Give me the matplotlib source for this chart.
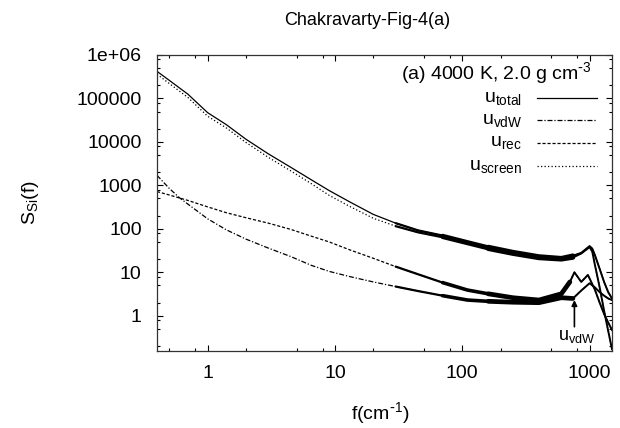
import numpy as np
import matplotlib
matplotlib.use("Agg")
from matplotlib import pyplot as plt
from matplotlib.ticker import FixedLocator, LogLocator, NullFormatter

plt.rcParams['font.family'] = ['Liberation Sans', 'DejaVu Sans']
plt.rcParams['mathtext.default'] = 'regular'

# values (log-log)
f_total = [0.4, 0.5, 0.7, 1, 1.4, 2, 3, 4.5, 6.5, 9, 13, 20, 30, 45, 70, 110, 160, 250, 400, 600,
           740, 860, 1000, 1050, 1100, 1200, 1300, 1400, 1500]
s_total = [4.2e5, 2.6e5, 1.25e5, 4.7e4, 2.5e4, 1.15e4, 5.3e3, 2.6e3, 1.35e3, 760, 420, 215, 135, 92, 70, 50, 38, 29, 23, 21,
           24, 28, 40, 35, 25, 12, 6, 3.5, 2.5]

f_screen = f_total
s_screen = [3.6e5, 2.2e5, 1.05e5, 3.9e4, 2.1e4, 9.7e3, 4.4e3, 2.15e3, 1.1e3, 590, 330, 175, 115, 83, 64, 46, 35, 27, 21.5, 20,
            22, 27, 38, 30, 15, 4.5, 1.3, 0.45, 0.17]

f_rec = [0.4, 0.5, 0.7, 1, 1.4, 2, 3, 4.5, 6.5, 9, 13, 20, 30, 45, 70, 110, 160, 250, 400, 600,
         700, 760, 860, 970, 1100, 1200, 1300, 1400, 1500]
s_rec = [720, 600, 450, 320, 235, 180, 135, 97, 68, 50, 33, 21, 13.5, 9, 5.8, 3.9, 3.2, 2.6, 2.3, 3.2,
         6, 10, 6, 8.7, 4, 2, 1.1, 0.7, 0.47]

f_vdw = [0.4, 0.5, 0.6, 0.7, 1, 1.4, 2, 3, 4.5, 6.5, 9, 13, 20, 30, 45, 70, 110, 160, 250, 400, 600,
         740, 860, 1000, 1100, 1200, 1300, 1400, 1500]
s_vdw = [1700, 850, 520, 370, 170, 95, 58, 36, 23, 14.5, 10.5, 8, 6, 4.7, 3.7, 2.9, 2.3, 2.15, 2.05, 2.0, 2.6,
         2.5, 3.8, 5.6, 4.5, 3.5, 2.9, 2.5, 2.3]

labels = ['$u_{total}$', '$u_{vdW}$', '$u_{rec}$', '$u_{screen}$']
yticks = [1, 10, 100, 1000, 10000, 100000, 1e6]
yticklabels = ['1', '10', '100', '1000', '10000', '100000', '1e+06']
xticks = [1, 10, 100, 1000]
xticklabels = ['1', '10', '100', '1000']

series = [(f_total, s_total, '-'),
          (f_vdw, s_vdw, (0, (4, 1.5, 1, 1.5))),
          (f_rec, s_rec, (0, (2.5, 1.5))),
          (f_screen, s_screen, (0, (1, 1.8)))]

fig = plt.figure(figsize=(6.2, 4.28), dpi=100)
ax = fig.add_axes([0.2532, 0.18, 0.7339, 0.6916])

for f, s, ls in series:
    f = np.array(f)
    s = np.array(s)
    ax.plot(f, s, color='black', lw=0.9, ls=ls)
    # noisy part of the spectra shows as a thick band
    m = (f >= 30) & (f <= 70)
    ax.plot(f[m], s[m], color='black', lw=1.6, solid_capstyle='round')
    m = (f >= 70) & (f <= 160)
    ax.plot(f[m], s[m], color='black', lw=2.6, solid_capstyle='round')
    m = (f >= 160) & (f <= 740)
    ax.plot(f[m], s[m], color='black', lw=3.4, solid_capstyle='round')
    m = f >= 600
    ax.plot(f[m], s[m], color='black', lw=1.4)

ax.set_xscale('log')
ax.set_yscale('log')
ax.set_xlim(0.4, 1500)
ax.set_ylim(0.155, 1e6)

ax.xaxis.set_major_locator(FixedLocator(xticks))
ax.set_xticklabels(xticklabels)
ax.yaxis.set_major_locator(FixedLocator(yticks))
ax.set_yticklabels(yticklabels)
ax.xaxis.set_minor_locator(LogLocator(base=10, subs=(2, 5, 8)))
ax.yaxis.set_minor_locator(LogLocator(base=10, subs=(2, 5, 8)))
ax.xaxis.set_minor_formatter(NullFormatter())
ax.yaxis.set_minor_formatter(NullFormatter())
ax.tick_params(which='both', direction='in', top=True, right=True, labelsize=14)
ax.tick_params(which='major', length=4, width=0.8)
ax.tick_params(which='minor', length=2, width=0.8)
ax.tick_params(axis='x', pad=10)
ax.tick_params(axis='y', pad=11)
for sp in ax.spines.values():
    sp.set_linewidth(0.9)
    sp.set_color('#333333')

ax.set_xlabel(r'f(cm$^{\text{-}1}$)', fontsize=14)
ax.xaxis.set_label_coords(0.49, -0.165)
ax.set_ylabel('S$_{Si}$(f)', fontsize=14)
ax.yaxis.set_label_coords(-0.255, 0.5)
fig.text(0.592, 0.953, 'Chakravarty-Fig-4(a)', ha='center', va='center', fontsize=13)

# key, gnuplot style: label right-aligned, sample to the right
ax.text(0.956, 0.939, r'(a) 4000 K, 2.0 g cm$^{\text{-}3}$', transform=ax.transAxes,
        ha='right', va='center', fontsize=14)
rows = [0.854, 0.780, 0.703, 0.625]
for (f, s, ls), lab, yy in zip(series, labels, rows):
    ax.text(0.802, yy - 0.012, lab, transform=ax.transAxes, ha='right',
            va='baseline', fontsize=14)
    ax.plot([0.835, 0.967], [yy, yy], transform=ax.transAxes, color='black',
            lw=0.9, ls=ls)

ax.annotate('', xy=(760, 2.3), xytext=(760, 0.56),
            arrowprops=dict(arrowstyle='-|>', color='black', lw=1.2,
                            mutation_scale=8, shrinkA=0, shrinkB=0))
ax.text(790, 0.33, '$u_{vdW}$', ha='center', va='center', fontsize=13)

fig.savefig('out.png', dpi=100)
